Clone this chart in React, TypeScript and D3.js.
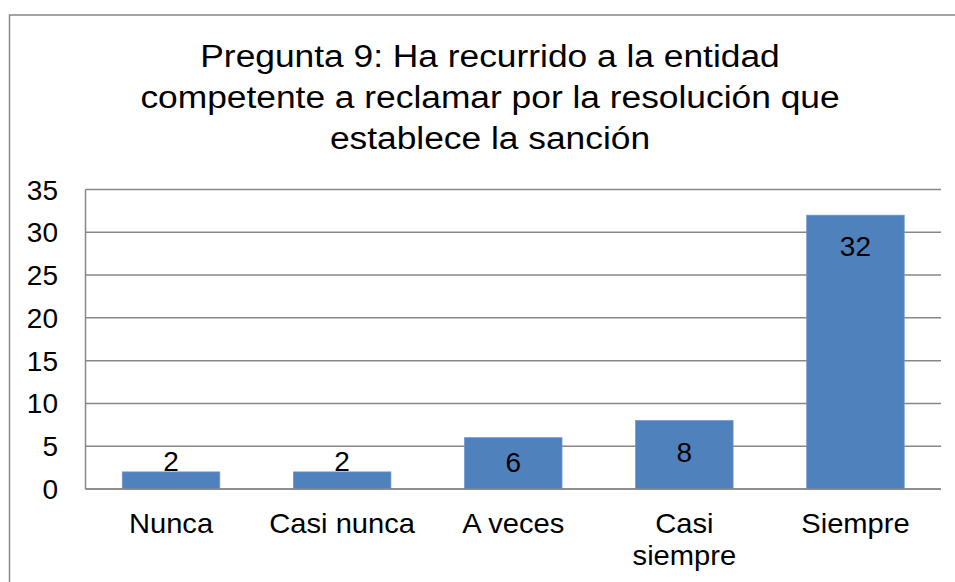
import React from "react";
import * as d3 from "d3";

const categories: string[][] = [["Nunca"], ["Casi nunca"], ["A veces"], ["Casi", "siempre"], ["Siempre"]];
const values: number[] = [2, 2, 6, 8, 32];
const yTicks: number[] = [0, 5, 10, 15, 20, 25, 30, 35];
const titleLines: string[] = [
  "Pregunta 9: Ha recurrido a la entidad",
  "competente a reclamar por la resolución que",
  "establece la sanción",
];

const W = 955;
const H = 582;
const plot = { left: 85.5, right: 941, top: 189.5, bottom: 489 };
const FONT = "'Liberation Sans', Arial, sans-serif";
const GRID = "#878787";
const BAR = "#4F81BD";

export default function App() {
  const x = d3
    .scaleBand<number>()
    .domain(values.map((_, i) => i))
    .range([plot.left, plot.right])
    .paddingInner(0.43)
    .paddingOuter(0.215);
  const y = d3.scaleLinear().domain([0, 35]).range([plot.bottom, plot.top]);
  const band = (plot.right - plot.left) / values.length;

  return (
    <svg
      width={W}
      height={H}
      style={{ position: "absolute", left: 0, top: 0, background: "#fff" }}
      fontFamily={FONT}
    >
      <rect x={9.5} y={15} width={980} height={620} fill="#fff" stroke={GRID} strokeWidth={1.5} />
      {titleLines.map((t, i) => (
        <text
          key={i}
          transform={`translate(490,${67 + i * 41}) scale(1.14,1)`}
          textAnchor="middle"
          fontSize={31}
          fill="#000"
        >
          {t}
        </text>
      ))}
      {yTicks.map((t) => (
        <g key={t}>
          <line x1={plot.left} x2={plot.right} y1={y(t)} y2={y(t)} stroke={GRID} strokeWidth={1.5} />
          <text x={58} y={y(t) + 10} textAnchor="end" fontSize={28} fill="#000">
            {t}
          </text>
        </g>
      ))}
      <line x1={plot.left} x2={plot.left} y1={plot.top} y2={plot.bottom} stroke={GRID} strokeWidth={1.5} />
      {values.map((v, i) => {
        const bx = x(i)!;
        const bw = x.bandwidth();
        const top = y(v);
        const h = plot.bottom - top;
        const cx = bx + bw / 2;
        const baseline = h < 30 ? top - 1 : Math.min(top + 41, (top + plot.bottom) / 2 + 9);
        return (
          <g key={i}>
            <rect x={bx} y={top} width={bw} height={h} fill={BAR} stroke="#6f96c8" strokeWidth={0.75} />
            <text x={cx} y={baseline} textAnchor="middle" fontSize={28} fill="#000">
              {v}
            </text>
          </g>
        );
      })}
      <line x1={plot.left} x2={plot.right} y1={plot.bottom} y2={plot.bottom} stroke={GRID} strokeWidth={1.5} />
      {categories.map((lines, i) => (
        <g key={i} transform={`translate(${plot.left + band * (i + 0.5)},533) scale(1.04,1)`}>
          {lines.map((l, j) => (
            <text key={j} x={0} y={j * 32} textAnchor="middle" fontSize={28} fill="#000">
              {l}
            </text>
          ))}
        </g>
      ))}
    </svg>
  );
}
